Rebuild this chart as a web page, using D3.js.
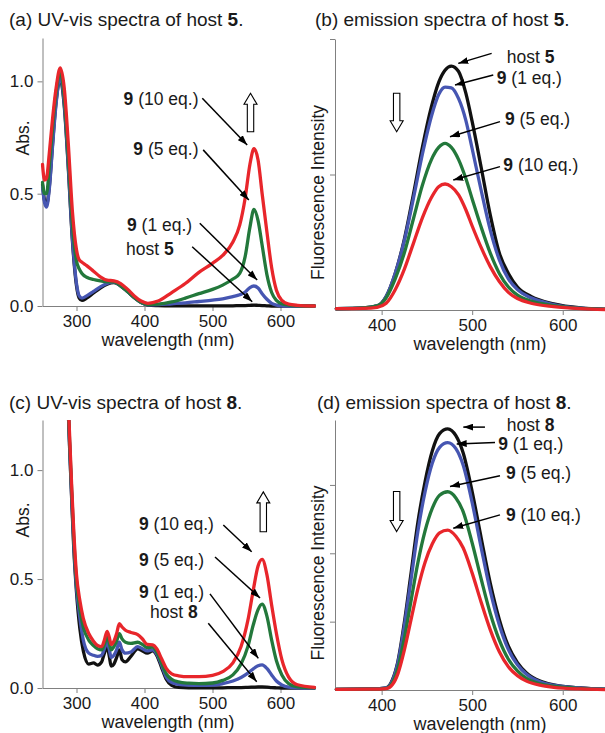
<!DOCTYPE html>
<html>
<head>
<meta charset="utf-8">
<script src="https://cdn.jsdelivr.net/npm/d3@7"></script>
<style>
  body { margin: 0; background: #fff; }
  text { font-family: "Liberation Sans", Arial, sans-serif; fill: #1a1a1a; white-space: pre; }
  .axis path, .axis line { stroke: #808080; stroke-width: 1; }
  .axis text { font-size: 17px; fill: #1a1a1a; }
</style>
</head>
<body>
<div class="chartDiv"></div>
<script>
// spectra

// (a) UV-vis, host 5
const wlA = [250, 253, 256, 260, 265, 270, 276, 282, 288, 294, 300, 304, 308, 315, 325, 335, 345, 355, 365, 375, 385, 395, 405, 420, 440, 460, 480, 500, 515, 530, 540, 548, 555, 561, 567, 573, 580, 587, 594, 602, 612, 625, 650];
const absA_host = [0.54, 0.47, 0.45, 0.53, 0.73, 0.91, 1.01, 0.89, 0.61, 0.29, 0.09, 0.035, 0.025, 0.035, 0.058, 0.08, 0.097, 0.104, 0.089, 0.064, 0.037, 0.015, 0.004, 0.002, 0.001, 0.001, 0.001, 0.001, 0.001, 0.001, 0.002, 0.002, 0.003, 0.004, 0.003, 0.002, 0.001, 0, 0, 0, 0, 0, 0];
const absA_1eq = [0.53, 0.46, 0.44, 0.52, 0.72, 0.90, 1.02, 0.90, 0.62, 0.30, 0.10, 0.045, 0.035, 0.045, 0.065, 0.085, 0.10, 0.106, 0.09, 0.065, 0.038, 0.016, 0.005, 0.006, 0.01, 0.014, 0.02, 0.026, 0.032, 0.042, 0.05, 0.062, 0.082, 0.089, 0.08, 0.055, 0.03, 0.012, 0.004, 0.001, 0, 0, 0];
const absA_5eq = [0.55, 0.50, 0.50, 0.62, 0.80, 0.95, 1.04, 0.93, 0.66, 0.36, 0.20, 0.165, 0.145, 0.128, 0.118, 0.112, 0.108, 0.108, 0.09, 0.065, 0.038, 0.016, 0.006, 0.008, 0.018, 0.035, 0.055, 0.074, 0.093, 0.12, 0.145, 0.22, 0.35, 0.43, 0.38, 0.27, 0.14, 0.06, 0.025, 0.01, 0.004, 0.001, 0];
const absA_10eq = [0.63, 0.56, 0.57, 0.68, 0.84, 0.97, 1.06, 0.97, 0.72, 0.42, 0.25, 0.205, 0.195, 0.18, 0.155, 0.13, 0.115, 0.112, 0.10, 0.075, 0.045, 0.022, 0.012, 0.022, 0.06, 0.10, 0.15, 0.19, 0.225, 0.285, 0.36, 0.48, 0.63, 0.70, 0.65, 0.50, 0.33, 0.17, 0.07, 0.025, 0.008, 0.003, 0];

// (b) emission, host 5
const wlB = [350, 380, 395, 405, 415, 425, 435, 445, 455, 463, 470, 477, 485, 493, 500, 510, 520, 530, 540, 550, 565, 590, 620, 650];
const emB_host = [0.01, 0.015, 0.03, 0.10, 0.27, 0.52, 0.85, 1.20, 1.50, 1.68, 1.77, 1.80, 1.76, 1.60, 1.39, 1.05, 0.70, 0.42, 0.27, 0.17, 0.10, 0.045, 0.015, 0.005];
const emB_1eq = [0.01, 0.015, 0.03, 0.10, 0.27, 0.51, 0.82, 1.15, 1.43, 1.59, 1.645, 1.64, 1.56, 1.40, 1.19, 0.88, 0.59, 0.37, 0.23, 0.15, 0.09, 0.04, 0.013, 0.004];
const emB_5eq = [0.01, 0.015, 0.03, 0.09, 0.23, 0.42, 0.67, 0.92, 1.11, 1.20, 1.23, 1.20, 1.11, 0.97, 0.82, 0.61, 0.42, 0.27, 0.17, 0.11, 0.066, 0.033, 0.012, 0.004];
const emB_10eq = [0.01, 0.012, 0.02, 0.05, 0.15, 0.30, 0.49, 0.68, 0.83, 0.91, 0.93, 0.91, 0.85, 0.74, 0.62, 0.46, 0.32, 0.21, 0.13, 0.085, 0.05, 0.025, 0.01, 0.003];

// (c) UV-vis, host 8
const wlC = [288, 290, 293, 296, 300, 305, 310, 318, 325, 331, 337, 341, 345, 348, 351, 355, 359, 363, 367, 372, 380, 390, 397, 404, 412, 418, 425, 432, 440, 450, 465, 480, 500, 515, 530, 542, 552, 560, 567, 573, 580, 587, 594, 602, 612, 625, 650];
const absC_host = [1.26, 1.09, 0.86, 0.64, 0.44, 0.27, 0.17, 0.11, 0.115, 0.105, 0.12, 0.16, 0.19, 0.15, 0.10, 0.11, 0.14, 0.175, 0.13, 0.12, 0.145, 0.18, 0.17, 0.16, 0.17, 0.15, 0.095, 0.04, 0.012, 0.003, 0.001, 0.001, 0.001, 0.001, 0.002, 0.002, 0.003, 0.004, 0.005, 0.005, 0.004, 0.002, 0.001, 0, 0, 0, 0];
const absC_1eq = [1.27, 1.10, 0.87, 0.66, 0.46, 0.32, 0.22, 0.16, 0.15, 0.145, 0.15, 0.18, 0.21, 0.18, 0.14, 0.15, 0.175, 0.21, 0.175, 0.16, 0.165, 0.19, 0.18, 0.17, 0.175, 0.155, 0.105, 0.05, 0.025, 0.017, 0.013, 0.012, 0.013, 0.02, 0.032, 0.048, 0.068, 0.088, 0.102, 0.106, 0.09, 0.06, 0.032, 0.014, 0.004, 0.001, 0];
const absC_5eq = [1.28, 1.12, 0.90, 0.69, 0.49, 0.36, 0.28, 0.22, 0.195, 0.18, 0.175, 0.20, 0.235, 0.21, 0.175, 0.19, 0.215, 0.25, 0.225, 0.21, 0.205, 0.21, 0.20, 0.185, 0.188, 0.165, 0.115, 0.065, 0.04, 0.028, 0.022, 0.02, 0.023, 0.035, 0.06, 0.11, 0.19, 0.29, 0.36, 0.385, 0.33, 0.22, 0.125, 0.06, 0.02, 0.005, 0.001];
const absC_10eq = [1.30, 1.15, 0.92, 0.72, 0.52, 0.40, 0.32, 0.25, 0.215, 0.195, 0.19, 0.22, 0.26, 0.235, 0.20, 0.215, 0.25, 0.295, 0.28, 0.265, 0.255, 0.245, 0.225, 0.20, 0.198, 0.18, 0.135, 0.09, 0.065, 0.056, 0.052, 0.052, 0.058, 0.075, 0.115, 0.19, 0.31, 0.45, 0.56, 0.59, 0.52, 0.38, 0.25, 0.13, 0.05, 0.015, 0.003];

// (d) emission, host 8
const wlD = [350, 390, 405, 412, 418, 425, 432, 440, 448, 456, 464, 473, 482, 490, 500, 510, 520, 530, 540, 550, 560, 575, 590, 620, 650];
const emD_host = [0.01, 0.015, 0.03, 0.15, 0.42, 0.98, 1.66, 2.45, 3.05, 3.50, 3.75, 3.82, 3.72, 3.47, 2.90, 2.22, 1.56, 1.03, 0.64, 0.40, 0.25, 0.13, 0.075, 0.03, 0.01];
const emD_1eq = [0.01, 0.015, 0.03, 0.14, 0.40, 0.93, 1.57, 2.32, 2.90, 3.32, 3.55, 3.62, 3.53, 3.29, 2.74, 2.08, 1.45, 0.95, 0.59, 0.37, 0.23, 0.12, 0.07, 0.028, 0.01];
const emD_5eq = [0.01, 0.012, 0.025, 0.11, 0.32, 0.75, 1.27, 1.86, 2.33, 2.66, 2.85, 2.90, 2.81, 2.61, 2.15, 1.62, 1.12, 0.73, 0.45, 0.28, 0.17, 0.09, 0.055, 0.02, 0.008];
const emD_10eq = [0.01, 0.012, 0.02, 0.08, 0.24, 0.58, 1.00, 1.48, 1.87, 2.14, 2.30, 2.34, 2.25, 2.08, 1.71, 1.28, 0.88, 0.56, 0.34, 0.21, 0.13, 0.07, 0.04, 0.015, 0.006];

const abXTicks = [300, 400, 500, 600];
const emXTicks = [400, 500, 600];
const absYTicks = [0, 0.5, 1.0];

// annotation labels: [text, bold]
const lab10 = [["9", true], [" (10 eq.)", false]];
const lab5 = [["9", true], [" (5 eq.)", false]];
const lab1 = [["9", true], [" (1 eq.)", false]];

let colors = ["#111111", "#4656b2", "#23783b", "#e8262b"];

let panels = [
  {
    title: [["(a) UV-vis spectra of host ", false], ["5", true], [".", false]], tx: 9, ty: 19,
    wl: wlA, series: [absA_host, absA_1eq, absA_5eq, absA_10eq],
    xd: [250, 650], xr: [42.5, 314.5], yd: [0, 1.193], yr: [306, 38],
    xticks: abXTicks, yticks: absYTicks, ylab: true,
    yTitle: "Abs.", yTitleX: 23, xTitleX: 168,
    anchor: "end",
    notes: [
      { parts: lab10, lx: 479.4, ly: 0.925, from: [485, 0.925], to: [551, 0.717] },
      { parts: lab5, lx: 479.4, ly: 0.702, from: [486.3, 0.695], to: [553.4, 0.472] },
      { parts: lab1, lx: 470.1, ly: 0.361, from: [481.3, 0.368], to: [565.7, 0.116] },
      { parts: [["host ", false], ["5", true]], lx: 443.1, ly: 0.255, from: [470.1, 0.264], to: [558.4, 0.019] }
    ],
    block: { x: 555.9, tip: 0.947, tail: 0.776 }
  },
  {
    title: [["(b) emission spectra of host ", false], ["5", true], [".", false]], tx: 315, ty: 19,
    wl: wlB, series: [emB_host, emB_1eq, emB_5eq, emB_10eq],
    xd: [348.5, 650], xr: [335, 608], yd: [0, 2], yr: [310, 39],
    xticks: emXTicks, yticks: [1, 2], ylab: false,
    yTitle: "Fluorescence Intensity", yTitleX: 318, xTitleX: 480,
    anchor: "start",
    notes: [
      { parts: [["host ", false], ["5", true]], lx: 538.1, ly: 1.869, from: [521.5, 1.894], to: [484.6, 1.82] },
      { parts: lab1, lx: 527.1, ly: 1.714, from: [523.3, 1.734], to: [481, 1.66] },
      { parts: lab5, lx: 536.2, ly: 1.415, from: [530.7, 1.39], to: [475.5, 1.279] },
      { parts: lab10, lx: 534.4, ly: 1.075, from: [530.7, 1.058], to: [479.1, 0.959] }
    ],
    block: { x: 416.6, tip: 1.316, tail: 1.60 }
  },
  {
    title: [["(c) UV-vis spectra of host ", false], ["8", true], [".", false]], tx: 9, ty: 402,
    wl: wlC, series: [absC_host, absC_1eq, absC_5eq, absC_10eq],
    xd: [250, 650], xr: [42.5, 314.5], yd: [0, 1.23], yr: [688, 420],
    xticks: abXTicks, yticks: absYTicks, ylab: true,
    yTitle: "Abs.", yTitleX: 23, xTitleX: 168,
    anchor: "start",
    notes: [
      { parts: lab10, lx: 391.9, ly: 0.755, from: [515.9, 0.748], to: [557.6, 0.625] },
      { parts: lab5, lx: 391.9, ly: 0.589, from: [503.7, 0.601], to: [569.9, 0.413] },
      { parts: lab1, lx: 391.9, ly: 0.442, from: [496.3, 0.432], to: [567.4, 0.136] },
      { parts: [["host ", false], ["8", true]], lx: 408.1, ly: 0.348, from: [493.8, 0.297], to: [565, 0.029] }
    ],
    block: { x: 574.7, tip: 0.90, tail: 0.717 }
  },
  {
    title: [["(d) emission spectra of host ", false], ["8", true], [".", false]], tx: 317, ty: 402,
    wl: wlD, series: [emD_host, emD_1eq, emD_5eq, emD_10eq],
    xd: [348.5, 650], xr: [335, 608], yd: [0, 3.95], yr: [690, 420],
    xticks: emXTicks, yticks: [1, 2, 3], ylab: false,
    yTitle: "Fluorescence Intensity", yTitleX: 318, xTitleX: 480,
    anchor: "start",
    notes: [
      { parts: [["host ", false], ["8", true]], lx: 538.1, ly: 3.875, from: [514.1, 3.846], to: [490.2, 3.846] },
      { parts: lab1, lx: 528.8, ly: 3.6, from: [525.2, 3.62], to: [482.9, 3.6] },
      { parts: lab5, lx: 537.3, ly: 3.173, from: [530.7, 3.133], to: [475.5, 2.977] },
      { parts: lab10, lx: 537.3, ly: 2.562, from: [530.7, 2.562], to: [479.1, 2.367] }
    ],
    block: { x: 416.6, tip: 2.318, tail: 2.903 }
  }
];

let svg = d3.select(".chartDiv").append("svg")
            .attr("width", 605)
            .attr("height", 733);

let defs = svg.append("defs");
defs.append("marker")
    .attr("id", "head")
    .attr("viewBox", "0 0 10 7")
    .attr("refX", 10).attr("refY", 3.5)
    .attr("markerWidth", 10).attr("markerHeight", 7)
    .attr("markerUnits", "userSpaceOnUse")
    .attr("orient", "auto")
    .append("path").attr("d", "M0,0L10,3.5L0,7Z").attr("fill", "#000");

let richText = (g, parts, x, y, anchor, size) => {
  let t = g.append("text")
           .attr("x", x).attr("y", y)
           .attr("dy", "0.36em")
           .attr("text-anchor", anchor)
           .style("font-size", size + "px");
  parts.forEach(p => t.append("tspan").text(p[0]).style("font-weight", p[1] ? "bold" : "normal"));
  return t;
};

panels.forEach((p, i) => {
  let g = svg.append("g");

  let x = d3.scaleLinear().domain(p.xd).range(p.xr);
  let y = d3.scaleLinear().domain(p.yd).range(p.yr);

  // axes
  let leftaxis = d3.axisLeft(y).tickValues(p.yticks).tickSize(5).tickSizeOuter(0).tickPadding(4)
                   .tickFormat(p.ylab ? d3.format(".1f") : "");
  let bottomaxis = d3.axisBottom(x).tickValues(p.xticks).tickSize(5).tickSizeOuter(0).tickPadding(4);

  g.append("g").classed("axis", true)
   .attr("transform", `translate(${p.xr[0]},0)`)
   .call(leftaxis);
  g.append("g").classed("axis", true)
   .attr("transform", `translate(0,${p.yr[0]})`)
   .call(bottomaxis);

  // curves
  let clipId = "clip" + i;
  defs.append("clipPath").attr("id", clipId)
      .append("rect")
      .attr("x", p.xr[0] - 2).attr("y", p.yr[1])
      .attr("width", p.xr[1] - p.xr[0] + 4).attr("height", p.yr[0] - p.yr[1] + 4);

  let line = d3.line()
               .x(d => x(d[0]))
               .y(d => y(d[1]))
               .curve(d3.curveMonotoneX);

  let curves = g.append("g").attr("clip-path", `url(#${clipId})`);
  p.series.forEach((vals, k) => {
    curves.append("path")
          .datum(p.wl.map((w, j) => [w, vals[j]]))
          .attr("d", line)
          .attr("fill", "none")
          .attr("stroke", colors[k])
          .attr("stroke-width", 3.3)
          .attr("stroke-linejoin", "round")
          .attr("stroke-linecap", "round");
  });

  // titles
  richText(g, p.title, p.tx, p.ty, "start", 19);
  g.append("text")
   .attr("transform", `translate(${p.yTitleX},${(p.yr[0] + p.yr[1]) / 2 + (p.ylab ? -34 : 18)}) rotate(-90)`)
   .attr("text-anchor", "middle")
   .attr("dy", "0.36em")
   .style("font-size", "17.5px")
   .text(p.yTitle);
  g.append("text")
   .attr("x", p.xTitleX).attr("y", p.yr[0] + 34)
   .attr("text-anchor", "middle")
   .attr("dy", "0.36em")
   .style("font-size", "18px")
   .text("wavelength (nm)");

  // pointer arrows with labels
  p.notes.forEach(n => {
    richText(g, n.parts, x(n.lx), y(n.ly), p.anchor, 17.5);
    g.append("line")
     .attr("x1", x(n.from[0])).attr("y1", y(n.from[1]))
     .attr("x2", x(n.to[0])).attr("y2", y(n.to[1]))
     .attr("stroke", "#000").attr("stroke-width", 1.5)
     .attr("marker-end", "url(#head)");
  });

  // hollow block arrow
  let bx = x(p.block.x), yt = y(p.block.tip), yb = y(p.block.tail);
  let dir = yb > yt ? 1 : -1;
  let hh = 11 * dir, hw = 6.5, sw = 3.2;
  let pts = [[bx, yt], [bx + hw, yt + hh], [bx + sw, yt + hh], [bx + sw, yb],
             [bx - sw, yb], [bx - sw, yt + hh], [bx - hw, yt + hh]];
  g.append("path")
   .attr("d", "M" + pts.map(q => q.join(",")).join("L") + "Z")
   .attr("fill", "#fff")
   .attr("stroke", "#000")
   .attr("stroke-width", 1.1);
});
</script>
</body>
</html>
